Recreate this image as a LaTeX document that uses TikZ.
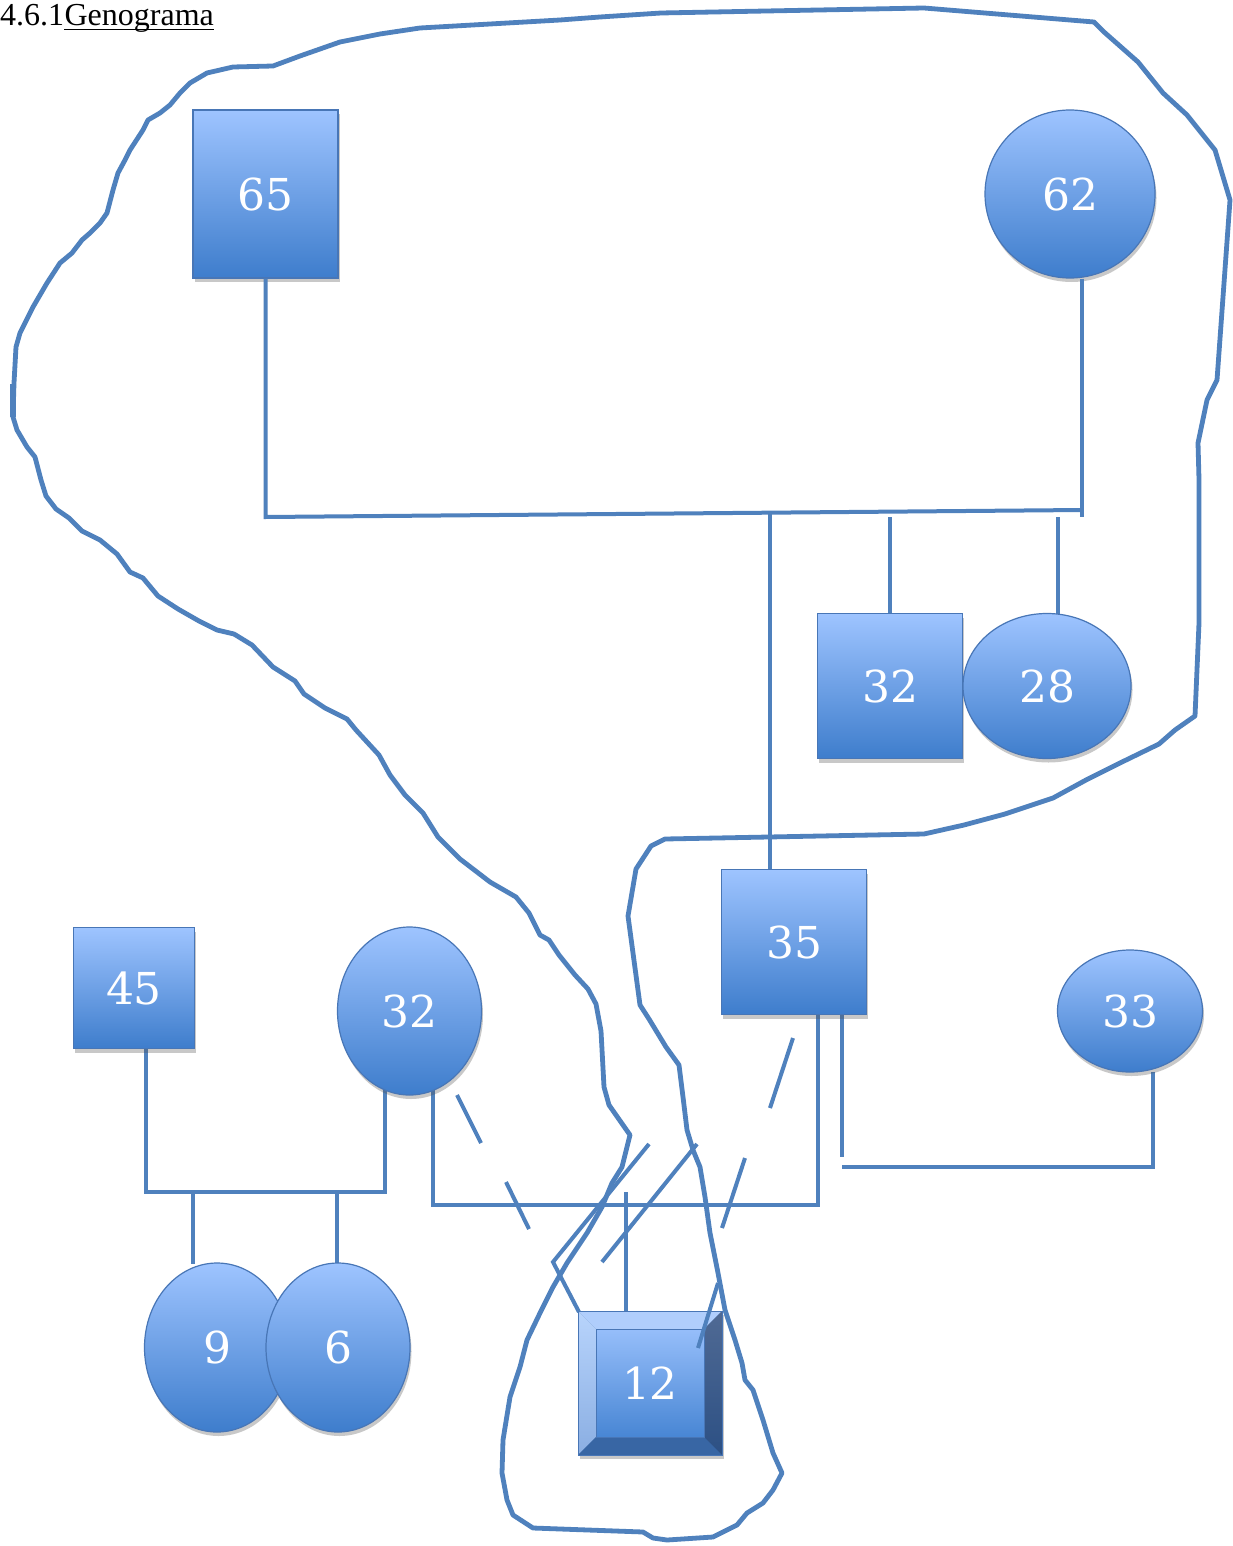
\documentclass[tikz,border=0pt]{standalone}
\usepackage{fontspec}
\newfontfamily\titlefont{Liberation Serif}
\newfontfamily\digitfont{DejaVu Serif}
\usetikzlibrary{shapes.geometric,shadows,calc}
\definecolor{lineblue}{RGB}{79,129,189}
\definecolor{gtop}{RGB}{158,196,255}
\definecolor{gbot}{RGB}{62,125,204}
\definecolor{sborder}{RGB}{72,118,182}
\definecolor{bevtopc}{RGB}{176,206,252}
\definecolor{bevlefttop}{RGB}{184,212,252}
\definecolor{bevleftbot}{RGB}{138,174,226}
\definecolor{bevrighttop}{RGB}{80,106,148}
\definecolor{bevrightbot}{RGB}{44,80,132}
\definecolor{bevbot}{RGB}{56,102,164}
\definecolor{facetop}{RGB}{150,190,250}
\definecolor{facebot}{RGB}{72,134,212}
\newcommand{\numfont}{\digitfont\fontsize{44}{52}\selectfont}
\tikzset{
  person/.style={draw=sborder, line width=1.2pt, top color=gtop, bottom color=gbot,
    text=white, font=\numfont, inner sep=0pt,
    drop shadow={shadow xshift=1.5pt, shadow yshift=-4pt, opacity=0.3, fill=black!70}},
  malebox/.style={person, rectangle},
  femaleell/.style={person, ellipse},
  conn/.style={draw=lineblue, line width=4pt},
  lasso/.style={draw=lineblue, line width=4.8pt, line join=round, line cap=round},
  bevelbox/.style={rectangle, minimum width=144pt, minimum height=144pt, draw=sborder,
    line width=1pt, fill=bevbot, text=white, font=\numfont, inner sep=0pt,
    drop shadow={shadow xshift=1.5pt, shadow yshift=-4pt, opacity=0.3, fill=black!70},
    path picture={
      \fill[bevtopc] (path picture bounding box.north west) -- (path picture bounding box.north east)
        -- ([shift={(-18pt,-18pt)}]path picture bounding box.north east)
        -- ([shift={(18pt,-18pt)}]path picture bounding box.north west) -- cycle;
      \shade[top color=bevlefttop, bottom color=bevleftbot] (path picture bounding box.north west)
        -- ([shift={(18pt,-18pt)}]path picture bounding box.north west)
        -- ([shift={(18pt,18pt)}]path picture bounding box.south west)
        -- (path picture bounding box.south west) -- cycle;
      \shade[top color=bevrighttop, bottom color=bevrightbot] (path picture bounding box.north east)
        -- ([shift={(-18pt,-18pt)}]path picture bounding box.north east)
        -- ([shift={(-18pt,18pt)}]path picture bounding box.south east)
        -- (path picture bounding box.south east) -- cycle;
      \fill[bevbot] (path picture bounding box.south west) -- (path picture bounding box.south east)
        -- ([shift={(-18pt,18pt)}]path picture bounding box.south east)
        -- ([shift={(18pt,18pt)}]path picture bounding box.south west) -- cycle;
      \shade[top color=facetop, bottom color=facebot]
        ([shift={(18pt,-18pt)}]path picture bounding box.north west) rectangle
        ([shift={(-18pt,18pt)}]path picture bounding box.south east);
      \draw[sborder, line width=0.8pt]
        ([shift={(18pt,-18pt)}]path picture bounding box.north west) rectangle
        ([shift={(-18pt,18pt)}]path picture bounding box.south east);
    }}
}
\begin{document}
\begin{tikzpicture}[x=1pt,y=-1pt]
\useasboundingbox (0,0) rectangle (1233,1546);
\fill[white] (0,0) rectangle (1233,1546);

% title
\node[anchor=base west, inner sep=0pt, font=\titlefont\fontsize{32}{38}\selectfont] (t1) at (0,26) {4.6.1};
\node[anchor=base west, inner sep=0pt, font=\titlefont\fontsize{32}{38}\selectfont] (t2) at (t1.base east) {Genograma};
\draw[line width=1.6pt] ([yshift=-3.5pt]t2.base west) -- ([yshift=-3.5pt]t2.base east);

% junction coordinates
\coordinate (hl) at (265.5,517);
\coordinate (hr) at (1082,510);
\coordinate (c62) at (1082,517);
\coordinate (j35) at (770,514);
\coordinate (j32) at (890,517);
\coordinate (j28) at (1058,517);
\coordinate (a1) at (842,1157);
\coordinate (a2) at (842,1167);
\coordinate (a3) at (1153,1167);
\coordinate (b1) at (818,1205);
\coordinate (b2) at (433,1205);
\coordinate (k1) at (146,1192);
\coordinate (k2) at (385,1192);
\coordinate (k9) at (193,1192);
\coordinate (k6) at (337,1192);
\coordinate (m12) at (626,1192);

\node[malebox, minimum width=145pt, minimum height=168pt] (n65) at (265.5,194) {65};
\node[femaleell, minimum width=170pt, minimum height=168pt] (n62) at (1070,194) {62};

% connectors
\draw[conn] (n65.south) -- (hl) -- (hr);
\draw[conn] (n62.south -| c62) -- (c62);
\draw[conn] (j35) -- (770,870) coordinate (j35e);
\draw[conn] (j32) -- (890,614) coordinate (j32e);
\draw[conn] (j28) -- (1058,614) coordinate (j28e);
\draw[conn] (842,1014) coordinate (a0) -- (a1);
\draw[conn] (a2) -- (a3) -- (1153,1072) coordinate (a4);
\draw[conn] (818,1014) coordinate (b0) -- (b1) -- (b2) -- (433,1087) coordinate (b3);
\draw[conn] (146,1047) coordinate (k0) -- (k1) -- (k2) -- (385,1087) coordinate (k3);
\draw[conn] (k9) -- (193,1264) coordinate (k9e);
\draw[conn] (k6) -- (337,1264) coordinate (k6e);
\draw[conn] (m12) -- (626,1312) coordinate (m12e);

% shapes
\node[malebox, minimum width=145pt, minimum height=145pt] (n32m) at (890,686) {32};
\node[femaleell, minimum width=168pt, minimum height=145pt] (n28) at (1047,686) {28};
\node[malebox, minimum width=145pt, minimum height=145pt] (n35) at (794,942) {35};
\node[femaleell, minimum width=145pt, minimum height=122pt] (n33) at (1130,1011) {33};
\node[malebox, minimum width=121pt, minimum height=121pt] (n45) at (134,988) {45};
\node[femaleell, minimum width=144pt, minimum height=168pt] (n32f) at (409.5,1011) {32};
\node[femaleell, minimum width=145pt, minimum height=169pt] (n9) at (217,1347.5) {9};
\node[femaleell, minimum width=144pt, minimum height=169pt] (n6) at (338,1347.5) {6};
\node[bevelbox] (n12) at (650,1383) {12};

% dashed / crossing strokes
\coordinate (d1a) at (457,1095); \coordinate (d1b) at (481,1143);
\coordinate (d2a) at (506,1182); \coordinate (d2b) at (529,1229);
\coordinate (d3a) at (793,1038); \coordinate (d3b) at (770,1108);
\coordinate (d4a) at (745,1158); \coordinate (d4b) at (722,1228);
\draw[conn] (d1a) -- (d1b);
\draw[conn] (d2a) -- (d2b);
\draw[conn] (d3a) -- (d3b);
\draw[conn] (d4a) -- (d4b);
\coordinate (z1) at (649,1144); \coordinate (z2) at (553,1262); \coordinate (z3) at (579,1312);
\draw[conn, line join=miter] (z1) -- (z2) -- (z3);
\coordinate (y1) at (697,1144); \coordinate (y2) at (602,1262);
\draw[conn] (y1) -- (y2);
\coordinate (e1) at (718,1283); \coordinate (e2) at (698,1348);
\draw[conn] (e1) -- (e2);

% lasso
\draw[lasso] plot coordinates {(600,17) (661,13) (924,8) (1094,22) (1104,32) (1138,62) (1163,93) (1187,115) (1215,150) (1230,200) (1217,380) (1207,400) (1198,443) (1199,480) (1199,623) (1195,716) (1175,730) (1159,744) (1122,762) (1086,780) (1053,798) (1005,814) (964,825) (924,834) (665,839) (651,846) (636,869) (628,916) (640,1005) (649,1019) (666,1047) (679,1065) (683,1097) (687,1130) (693,1150) (700,1167) (705,1197) (710,1233) (718,1273) (725,1310) (735,1340) (742,1363) (745,1380) (753,1390) (763,1420) (773,1453) (782,1473) (773,1490) (763,1503) (747,1513) (737,1525) (727,1530) (713,1537) (667,1540) (653,1538) (643,1532) (533,1528) (513,1515) (507,1500) (502,1473) (503,1440) (510,1397) (520,1367) (527,1340) (540,1313) (553,1287) (567,1263) (587,1233) (602,1207) (612,1183) (622,1167) (627,1147) (630,1135) (609,1105) (604,1087) (601,1031) (596,1004) (588,989) (575,975) (559,955) (549,940) (540,935) (529,913) (516,897) (490,882) (460,859) (438,837) (423,813) (405,795) (390,775) (379,755) (356,730) (347,719) (325,708) (304,694) (295,681) (273,667) (252,645) (234,634) (217,630) (199,621) (178,609) (158,596) (143,578) (130,572) (117,554) (100,540) (82,531) (69,518) (56,509) (46,496) (41,480) (35,457) (27,447) (17,430) (13,417) (14,383) (16,347) (20,333) (33,307) (47,283) (60,263) (72,253) (82,240) (90,233) (100,223) (107,213) (113,190) (118,173) (125,160) (130,150) (143,130) (148,120) (160,113) (170,105) (180,93) (190,83) (207,73) (233,67) (273,66) (300,56) (340,42) (380,34) (420,28) (560,20)} -- cycle;
\draw[lineblue, line width=6pt] (12.5,384) -- (12.5,417);
\end{tikzpicture}
\end{document}
